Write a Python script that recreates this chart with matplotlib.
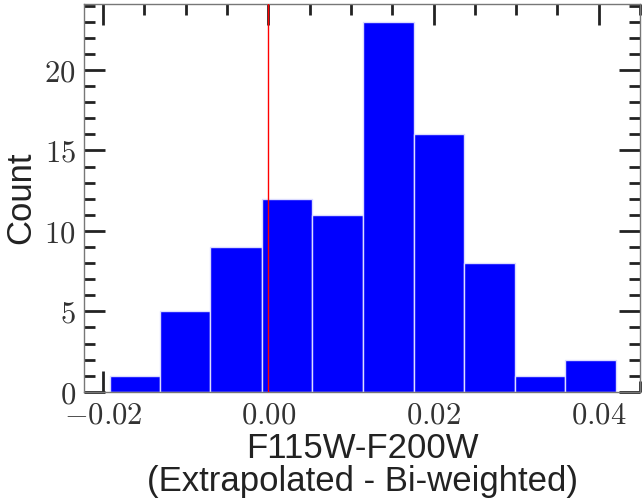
import numpy as np
import matplotlib
matplotlib.use('Agg')
from matplotlib import pyplot as plt
from matplotlib.ticker import MultipleLocator, FuncFormatter

# Histogram values
bin_edges = [-0.0192, -0.0131, -0.0070, -0.0008, 0.0053, 0.0114,
             0.0176, 0.0237, 0.0298, 0.0359, 0.0421]
counts = [1, 5, 9, 12, 11, 23, 16, 8, 1, 2]
x_ticks = [-0.02, 0.00, 0.02, 0.04]
y_ticks = [0, 5, 10, 15, 20]

plt.rcParams['mathtext.fontset'] = 'cm'

fig = plt.figure(figsize=(6.42, 5.01), dpi=100)
ax = fig.add_axes([0.131, 0.218, 0.866, 0.774])

edges = np.array(bin_edges)
ax.bar(edges[:-1], counts, width=np.diff(edges), align='edge',
       color='blue', edgecolor='#dcdcff', linewidth=1.0, zorder=2)
ax.axvline(0.0, color='red', lw=1.0, zorder=3)

ax.set_xlim(-0.0223, 0.0450)
ax.set_ylim(0, 24.1)

ax.set_xticks(x_ticks)
ax.set_yticks(y_ticks)
ax.xaxis.set_minor_locator(MultipleLocator(0.005))
ax.yaxis.set_minor_locator(MultipleLocator(1))
ax.xaxis.set_major_formatter(FuncFormatter(lambda v, p: r'$%.2f$' % v))
ax.yaxis.set_major_formatter(FuncFormatter(lambda v, p: r'$%d$' % v))

ax.tick_params(which='both', direction='in', top=True, right=True,
               color='#222222', width=2, labelsize=22, labelcolor='#333333')
ax.tick_params(which='major', length=15, pad=6)
ax.tick_params(which='minor', length=8)

for s in ax.spines.values():
    s.set_color('#777777')
    s.set_linewidth(1.0)

ax.set_ylabel('Count', family='Liberation Sans', fontsize=25, color='#222222', labelpad=5)
ax.set_xlabel('F115W-F200W\n(Extrapolated - Bi-weighted)', family='Liberation Sans',
              fontsize=25, color='#222222', labelpad=2, linespacing=1.0)

fig.savefig('out.png', dpi=100)
